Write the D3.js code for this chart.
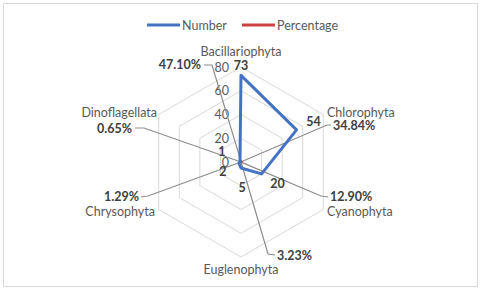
<!DOCTYPE html>
<html>
<head>
<meta charset="utf-8">
<script src="https://cdn.jsdelivr.net/npm/d3@7"></script>
<style>
  html, body { margin: 0; padding: 0; background: #fff; }
  svg { display: block; font-family: Lato, "Liberation Sans", sans-serif; }
</style>
</head>
<body>
<svg id="chart" width="480" height="289"></svg>
<script>
const categories = ["Bacillariophyta", "Chlorophyta", "Cyanophyta", "Euglenophyta", "Chrysophyta", "Dinoflagellata"];
const numberValues = [73, 54, 20, 5, 2, 1];
const percentValues = [47.10, 34.84, 12.90, 3.23, 1.29, 0.65];
const percentLabels = ["47.10%", "34.84%", "12.90%", "3.23%", "1.29%", "0.65%"];
const tickValues = [0, 20, 40, 60, 80];
const seriesNames = ["Number", "Percentage"];

// label placement (offsets from chart centre)
const catLabelPos = [
  { dx: 0, dy: -106, anchor: "middle" },
  { dx: 86, dy: -45, anchor: "start" },
  { dx: 86, dy: 54, anchor: "start" },
  { dx: 0, dy: 112, anchor: "middle" },
  { dx: -86, dy: 54, anchor: "end" },
  { dx: -84, dy: -45, anchor: "end" }
];
const pctLabelPos = [
  { dx: -40, dy: -93, anchor: "end", elbow: [-29, -97], tail: [-37, -97] },
  { dx: 92, dy: -32, anchor: "start", elbow: [86, -37], tail: [90, -37] },
  { dx: 89, dy: 39, anchor: "start", elbow: [80, 34], tail: [87, 35] },
  { dx: 36, dy: 98, anchor: "start", elbow: [27, 92], tail: [34, 93] },
  { dx: -102, dy: 39, anchor: "end", elbow: [-93, 34], tail: [-100, 35] },
  { dx: -109, dy: -29, anchor: "end", elbow: [-97, -34], tail: [-106, -34] }
];
const numLabelOff = [[0, -5], [17, -4], [16, 14], [1, 24], [-16, 13], [-18, -5]];

const cx = 241, cy = 162, R = 95;
const svg = d3.select("#chart");

svg.append("rect")
  .attr("x", 3.5).attr("y", 3.5)
  .attr("width", 474).attr("height", 283)
  .attr("fill", "#fff").attr("stroke", "#d9d9d9");

const r = d3.scaleLinear().domain([0, 80]).range([0, R]);
const angle = i => i * Math.PI / 3;
const px = (i, v) => cx + r(v) * Math.sin(angle(i));
const py = (i, v) => cy - r(v) * Math.cos(angle(i));

const g = svg.append("g");

// hexagon gridlines
g.selectAll("path.grid")
  .data(tickValues.slice(1))
  .enter().append("path")
  .attr("class", "grid")
  .attr("d", t => d3.line()(categories.map((c, i) => [px(i, t), py(i, t)])) + "Z")
  .attr("fill", "none")
  .attr("stroke", "#d9d9d9")
  .attr("stroke-width", 1);

// tick labels
g.selectAll("text.tick")
  .data(tickValues)
  .enter().append("text")
  .attr("class", "tick")
  .attr("x", cx - 12)
  .attr("y", t => cy - r(t) + 4.5)
  .attr("text-anchor", "end")
  .attr("font-size", 12.5)
  .attr("fill", "#595959")
  .text(t => t);

// leader lines for percentage labels
g.selectAll("path.leader")
  .data(percentValues)
  .enter().append("path")
  .attr("class", "leader")
  .attr("d", (v, i) => {
    const p = pctLabelPos[i];
    return d3.line()([
      [px(i, v / 100), py(i, v / 100)],
      [cx + p.elbow[0], cy + p.elbow[1]],
      [cx + p.tail[0], cy + p.tail[1]]
    ]);
  })
  .attr("fill", "none")
  .attr("stroke", "#8c8c8c")
  .attr("stroke-width", 1.2);

// series lines
const lineClosed = vals => d3.line()(vals.map((v, i) => [px(i, v), py(i, v)])) + "Z";
g.append("path")
  .attr("d", lineClosed(percentValues.map(v => v / 100)))
  .attr("fill", "none")
  .attr("stroke", "#c9423f")
  .attr("stroke-width", 2.5);
g.append("path")
  .attr("d", lineClosed(numberValues))
  .attr("fill", "none")
  .attr("stroke", "#4472c4")
  .attr("stroke-width", 3)
  .attr("stroke-linejoin", "round");

// category labels
g.selectAll("text.cat")
  .data(categories)
  .enter().append("text")
  .attr("class", "cat")
  .attr("x", (c, i) => cx + catLabelPos[i].dx)
  .attr("y", (c, i) => cy + catLabelPos[i].dy)
  .attr("text-anchor", (c, i) => catLabelPos[i].anchor)
  .attr("font-size", 12.5)
  .attr("fill", "#595959")
  .text(c => c);

// number labels
g.selectAll("text.num")
  .data(numberValues)
  .enter().append("text")
  .attr("class", "num")
  .attr("x", (v, i) => px(i, v) + numLabelOff[i][0])
  .attr("y", (v, i) => py(i, v) + numLabelOff[i][1])
  .attr("text-anchor", "middle")
  .attr("font-size", 12.5)
  .attr("font-weight", "bold")
  .attr("fill", "#404040")
  .text(v => v);

// percentage labels
g.selectAll("text.pct")
  .data(percentLabels)
  .enter().append("text")
  .attr("class", "pct")
  .attr("x", (t, i) => cx + pctLabelPos[i].dx)
  .attr("y", (t, i) => cy + pctLabelPos[i].dy)
  .attr("text-anchor", (t, i) => pctLabelPos[i].anchor)
  .attr("font-size", 12.5)
  .attr("font-weight", "bold")
  .attr("fill", "#404040")
  .text(t => t);

// legend
const legendColors = ["#4472c4", "#c9423f"];
const legendX = [147, 242];
const leg = svg.selectAll("g.legend")
  .data(seriesNames)
  .enter().append("g")
  .attr("class", "legend")
  .attr("transform", (d, i) => `translate(${legendX[i]},25)`);
leg.append("line")
  .attr("x1", 0).attr("x2", 33)
  .attr("stroke", (d, i) => legendColors[i])
  .attr("stroke-width", 3);
leg.append("text")
  .attr("x", 35).attr("y", 4.5)
  .attr("font-size", 12.5)
  .attr("fill", "#595959")
  .text(d => d);
</script>
</body>
</html>
